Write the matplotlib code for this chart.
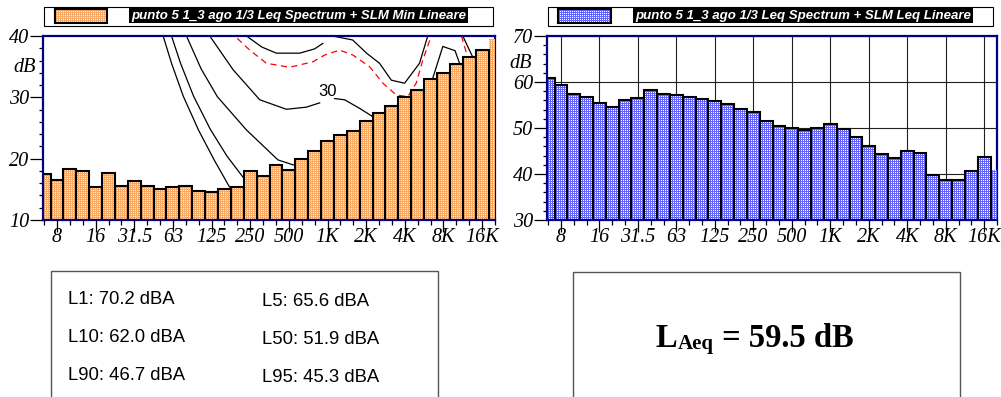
import numpy as np
import matplotlib
matplotlib.use("Agg")
import matplotlib.pyplot as plt
from matplotlib.patches import Rectangle
from matplotlib.path import Path
from matplotlib.text import Annotation
from matplotlib import font_manager as fm

# ---------------------------------------------------------------- data
band_labels = ["6.3", "8", "10", "12.5", "16", "20", "25", "31.5", "40", "50",
               "63", "80", "100", "125", "160", "200", "250", "315", "400",
               "500", "630", "800", "1K", "1.25K", "1.6K", "2K", "2.5K",
               "3.15K", "4K", "5K", "6.3K", "8K", "10K", "12.5K", "16K", "20K"]
tick_labels = ["8", "16", "31.5", "63", "125", "250", "500", "1K", "2K",
               "4K", "8K", "16K"]

# 1/3-octave spectra (dB)
min_spectrum = [17.5, 16.5, 18.3, 18.0, 15.3, 17.6, 15.5, 16.3, 15.5, 15.1,
                15.4, 15.6, 14.8, 14.5, 15.1, 15.4, 18.0, 17.1, 18.9, 18.2,
                20.0, 21.3, 22.9, 23.8, 24.5, 26.2, 27.4, 28.6, 30.0, 31.2,
                33.0, 34.0, 35.4, 36.5, 37.7, 39.5]
leq_spectrum = [60.8, 59.4, 57.4, 56.7, 55.5, 54.6, 56.1, 56.6, 58.3, 57.4,
                57.2, 56.8, 56.3, 55.9, 55.2, 54.1, 53.4, 51.5, 50.4, 50.1,
                49.6, 49.9, 50.8, 49.7, 48.1, 46.1, 44.3, 43.4, 44.9, 44.6,
                39.8, 38.6, 38.7, 40.7, 43.6, 40.8]

# reference curves, x in band position (0 = 6.3 Hz, 22 = 1 kHz)
nan = float("nan")
curve_a_x = [8.95, 9.24, 9.9, 10.8, 12.0, 13.2, 14.36, 15.2]
curve_a_y = [42.5, 40.0, 35.5, 30.2, 24.6, 19.8, 15.5, 13.5]
curve_b_x = [9.6, 9.89, 10.6, 11.6, 12.9, 14.2, 15.40, 16.2]
curve_b_y = [42.5, 40.0, 35.5, 30.2, 24.8, 20.4, 17.1, 15.0]
curve_c_x = [10.8, 11.05, 12.2, 13.45, 15.7, 18.15, 19.32, 20.6]
curve_c_y = [42.0, 40.0, 34.6, 30.1, 24.7, 19.8, 19.0, 18.6]
curve_30_x = [12.5, 12.86, 14.67, 16.74, 18.81, 20.36, 21.39, 22.0, 22.55,
              23.33, 24.49, 25.40, 26.5, 27.5, 28.5, 29.4, 30.15, 30.95,
              31.9, 32.24, 33.0]
curve_30_y = [41.0, 40.0, 34.5, 29.6, 28.05, 28.4, 29.1, nan, 29.8, 29.6,
              28.2, 27.0, 25.0, 23.5, 24.0, 27.5, 33.0, 38.3, 37.6, 35.6,
              33.0]
curve_40_x = [15.4, 15.71, 16.9, 18.03, 19.84, 21.0, 21.64, 22.2, 22.4,
              23.95, 25.03, 26.04, 26.95, 27.98, 29.14, 29.78, 30.3, 31.5,
              32.5, 32.88, 33.4]
curve_40_y = [41.0, 40.0, 38.2, 37.2, 37.2, 37.9, 38.8, nan, 40.0, 39.35,
              37.2, 35.55, 32.8, 32.3, 35.55, 40.0, 43.0, 44.0, 40.0, 38.3,
              36.0]
ref_x = [14.5, 14.80, 15.96, 17.26, 19.06, 20.87, 21.78, 22.94, 23.97, 25.26,
         26.3, 27.33, 28.23, 28.88, 29.4, 30.05, 30.6, 31.5, 32.37, 32.76,
         33.3]
ref_y = [41.0, 40.0, 37.7, 35.55, 34.9, 35.8, 36.9, 37.7, 36.9, 35.0, 32.3,
         30.4, 30.1, 32.3, 36.1, 40.0, 43.0, 43.0, 40.2, 37.4, 34.5]

stat_names = ["L1", "L5", "L10", "L50", "L90", "L95"]
stat_values = [70.2, 65.6, 62.0, 51.9, 46.7, 45.3]
laeq = 59.5

legend_left = "punto 5 1_3 ago 1/3 Leq Spectrum + SLM Min Lineare"
legend_right = "punto 5 1_3 ago 1/3 Leq Spectrum + SLM Leq Lineare"

# ---------------------------------------------------------------- style
W, H, DPI = 1001, 397, 100
NAVY = "#000080"
ORANGE_BASE, ORANGE_DOT = (248, 170, 100), (255, 238, 220)
BLUE_BASE, BLUE_DOT = (100, 100, 246), (255, 255, 255)
SERIF = "Liberation Serif"
SANS = "Liberation Sans"
available = {f.name for f in fm.fontManager.ttflist}
NARROW = "Liberation Sans Narrow" if "Liberation Sans Narrow" in available else SANS
LEG_SIZE = 11.0 if NARROW != SANS else 9.5
TICK_SIZE = 14.5


def fx(px):
    return px / W


def fy(py):
    return 1 - py / H


def dot_texture(h, w, base, dot, step=2):
    img = np.empty((h, w, 3))
    img[:] = np.array(base) / 255
    img[::step, ::step] = np.array(dot) / 255
    return img


def textured_bars(ax, values, base, dot):
    pos = np.arange(len(values))
    bars = ax.bar(pos, values, width=1.0, facecolor="none",
                  edgecolor="black", linewidth=1.5, zorder=4)
    bars[-1].set_edgecolor("none")
    clip = Path.make_compound_path(
        *[b.get_path().transformed(b.get_patch_transform()) for b in bars])
    box = ax.get_position()
    h, w = int(round(box.height * H)), int(round(box.width * W))
    x0, x1 = ax.get_xlim()
    y0, y1 = ax.get_ylim()
    im = ax.imshow(dot_texture(h, w, base, dot), extent=(x0, x1, y0, y1),
                   origin="upper", aspect="auto", interpolation="nearest",
                   zorder=3)
    im.set_clip_path(clip, ax.transData)
    ax.set_xlim(x0, x1)
    ax.set_ylim(y0, y1)
    return bars


def setup_axes(left_px, right_px, ylim):
    ax = fig.add_axes([fx(left_px), fy(220), (right_px - left_px) / W,
                       (220 - 36) / H])
    ax.set_xlim(-0.085, 34.93)
    ax.set_ylim(*ylim)
    for side, sp in ax.spines.items():
        sp.set_color(NAVY)
        sp.set_linewidth(1.6)
        sp.set_zorder(2.5 if side == "right" else 5)
    major_pos = [band_labels.index(t) for t in tick_labels]
    ax.set_xticks(major_pos, tick_labels, fontsize=TICK_SIZE,
                  fontstyle="italic", fontfamily=SERIF)
    ax.set_xticks(range(len(band_labels)), minor=True)
    yt = list(range(ylim[0], ylim[1] + 1, 10))
    ax.set_yticks(yt, [str(v) for v in yt], fontsize=TICK_SIZE,
                  fontstyle="italic", fontfamily=SERIF)
    ax.set_yticks(range(ylim[0], ylim[1] + 1, 2), minor=True)
    ax.tick_params(axis="x", which="major", length=8.6, width=0.9, pad=-3)
    ax.tick_params(axis="x", which="minor", length=3.6, width=0.9)
    ax.tick_params(axis="y", which="major", length=9.4, width=0.9, pad=0.5)
    ax.tick_params(axis="y", which="minor", length=3.0, width=0.9)
    return ax


def legend_bar(x0, x1, sw0, sw1, txt_x, text, base, dot):
    fig.add_artist(Rectangle((fx(x0), fy(26)), (x1 - x0) / W, 19 / H,
                             transform=fig.transFigure, fill=False,
                             edgecolor="black", linewidth=0.8))
    sw = fig.add_axes([fx(sw0), fy(23), (sw1 - sw0) / W, 14 / H])
    sw.imshow(dot_texture(14, sw1 - sw0, base, dot), aspect="auto",
              interpolation="nearest")
    sw.set_xticks([])
    sw.set_yticks([])
    for sp in sw.spines.values():
        sp.set_linewidth(1.5)
        sp.set_color("black")
    fig.text(fx(txt_x), fy(15.5), text, color="white", fontsize=LEG_SIZE,
             fontweight="bold", fontstyle="italic", fontfamily=NARROW,
             ha="left", va="center",
             bbox=dict(boxstyle="square,pad=0.15", facecolor="black",
                       edgecolor="none"))


fig = plt.figure(figsize=(W / DPI, H / DPI), dpi=DPI)

# ---------------------------------------------------------------- left chart
ax1 = setup_axes(43, 495, (10, 40))
for cx, cy in [(curve_a_x, curve_a_y), (curve_b_x, curve_b_y),
               (curve_c_x, curve_c_y), (curve_30_x, curve_30_y),
               (curve_40_x, curve_40_y)]:
    ax1.plot(cx, cy, color="black", linewidth=0.9, zorder=2)
ax1.plot(ref_x, ref_y, color="red", linewidth=0.9, dashes=(5, 3.5), zorder=2)
ax1.text(22.0, 30.9, "30", ha="center", va="center", fontsize=12,
         fontfamily=SANS, zorder=2)
textured_bars(ax1, min_spectrum, ORANGE_BASE, ORANGE_DOT)
fig.text(fx(25), fy(68), "dB", ha="center", va="center", fontsize=TICK_SIZE,
         fontstyle="italic", fontfamily=SERIF)

# ---------------------------------------------------------------- right chart
ax2 = setup_axes(547, 997, (30, 70))
ax2.set_axisbelow(True)
ax2.grid(True, which="major", color="#202020", linewidth=0.8)
textured_bars(ax2, leq_spectrum, BLUE_BASE, BLUE_DOT)
fig.text(fx(521), fy(63), "dB", ha="center", va="center", fontsize=TICK_SIZE,
         fontstyle="italic", fontfamily=SERIF)

# ---------------------------------------------------------------- legends
legend_bar(44, 493, 55, 107, 131, legend_left, ORANGE_BASE, ORANGE_DOT)
legend_bar(548, 993, 558, 611, 635, legend_right, BLUE_BASE, BLUE_DOT)

# ---------------------------------------------------------------- statistics
fig.add_artist(Rectangle((fx(51), fy(420)), (438 - 51) / W, (420 - 271) / H,
                         transform=fig.transFigure, fill=False,
                         edgecolor="#555555", linewidth=1.0))
fig.add_artist(Rectangle((fx(573), fy(420)), (960 - 573) / W, (420 - 272) / H,
                         transform=fig.transFigure, fill=False,
                         edgecolor="#555555", linewidth=1.0))
rows_y = [299.5, 337.5, 375.5]
for i, (name, val) in enumerate(zip(stat_names, stat_values)):
    col, row = i % 2, i // 2
    xpx = 68 if col == 0 else 262
    ypx = rows_y[row] + (1.5 if col == 1 else 0)
    fig.text(fx(xpx), fy(ypx), f"{name}: {val:.1f} dBA", ha="left",
             va="center", fontsize=13.3, fontfamily=SANS)

main_kw = dict(fontsize=23.5, fontweight="bold", fontfamily=SERIF)
t_l = fig.text(fx(656), fy(347), "L", ha="left", va="baseline", **main_kw)
t_sub = Annotation("Aeq", xy=(1, 0), xycoords=t_l, ha="left", va="bottom",
                   fontsize=15, fontweight="bold", fontfamily=SERIF)
fig.add_artist(t_sub)
t_rest = Annotation(f" = {laeq:.1f} dB", xy=(1, 0), xycoords=(t_sub, t_l),
                    ha="left", va="bottom", **main_kw)
fig.add_artist(t_rest)

fig.savefig("out.png", dpi=DPI)
